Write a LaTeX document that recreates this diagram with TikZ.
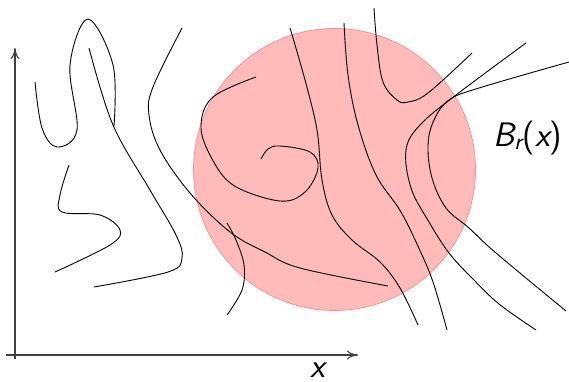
\documentclass[tikz,border=0pt]{standalone}
\usetikzlibrary{arrows.meta}
\begin{document}
\begin{tikzpicture}[x=1pt,y=-1pt,
  curve/.style={line width=0.9pt, black},
  axis/.style={line width=1.1pt, black!75, -{To[length=11pt,width=9pt]}},
  lbl/.style={font=\fontsize{34}{40}\selectfont\sffamily\slshape, inner sep=0pt}]
\useasboundingbox (0,0) rectangle (569,381);
% ball
\fill[red!27] (334.5,169.5) circle[radius=141pt];
\draw[red!45, line width=0.7pt] (334.5,169.5) circle[radius=141pt];
% axes
\draw[axis] (15,359) -- (15,48);
\draw[axis] (6,355) -- (358,355);
\node[lbl, anchor=base, text depth=0pt] (xl) at (318,377) {x};
\node[lbl, anchor=base west] (bl) at (493,146) {B\textsubscript{r}\upshape(\slshape x\upshape)};
% curves
\draw[curve] plot[smooth, tension=0.6] coordinates {(35,82) (42,128) (57,147) (77,130) (70,65) (88,19) (113,65) (114,126)};
\draw[curve] plot[smooth, tension=0.6] coordinates {(89,48) (113,125) (150,190) (176,235) (182,258) (168,272) (94,287)};
\draw[curve] plot[smooth, tension=0.6] coordinates {(69,165) (60,195) (62,212) (100,215) (120,230) (110,245) (55,272)};
\draw[curve] plot[smooth, tension=0.6] coordinates {(182,28) (153,87) (149,115) (160,150) (190,193) (230,232) (265,252) (300,268) (388,286)};
\draw[curve] plot[smooth, tension=0.6] coordinates {(256,77) (213,97) (201,125) (210,155) (233,185) (280,201) (305,192) (318,168) (310,152) (280,146) (268,149) (261,159)};
\draw[curve] plot[smooth, tension=0.6] coordinates {(227,223) (236,240) (244,265) (242,290) (227,315)};
\draw[curve] plot[smooth, tension=0.6] coordinates {(290,28) (305,80) (317,130) (322,180) (332,215) (352,240) (380,262) (400,288) (418,325)};
\draw[curve] plot[smooth, tension=0.6] coordinates {(344,23) (348,75) (358,125) (376,175) (401,212) (422,255) (434,285) (447,330)};
\draw[curve] plot[smooth, tension=0.6] coordinates {(374,8) (377,45) (383,82) (397,100) (408,102) (428,93) (472,53)};
\draw[curve] plot[smooth, tension=0.6] coordinates {(526,43) (456,95) (420,125) (406,150) (411,188) (429,222) (449,253) (472,278) (499,304) (536,330)};
\draw[curve] plot[smooth, tension=0.6] coordinates {(569,62) (479,88) (449,100) (434,120) (428,145) (432,178) (446,208) (469,228) (496,253) (566,311)};
\end{tikzpicture}
\end{document}
